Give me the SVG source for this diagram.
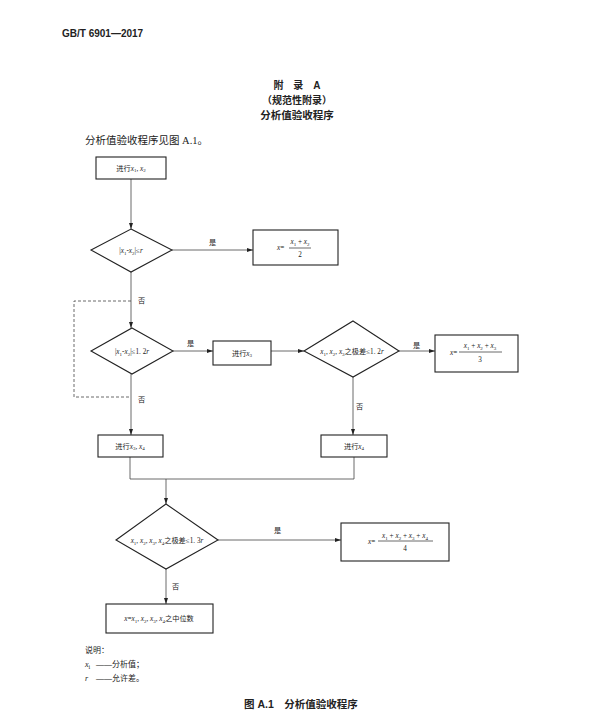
<svg xmlns="http://www.w3.org/2000/svg" width="594" height="718" viewBox="0 0 594 718">
<style>
.t{font-family:"Liberation Serif","Noto Sans CJK SC",serif;fill:#222}
.s{font-size:7.2px}
.i{font-style:italic}
.sub{font-size:5px}
.h{font-family:"Liberation Sans","Noto Sans CJK SC",sans-serif;font-weight:bold;fill:#222}
.box{fill:#fff;stroke:#222;stroke-width:1.1}
.ln{fill:none;stroke:#444;stroke-width:0.8}
.dash{stroke-dasharray:3 2}
</style>
<defs>
<marker id="ar" markerWidth="6" markerHeight="4" refX="6" refY="2" orient="auto" markerUnits="userSpaceOnUse">
<path d="M0,0 L6,2 L0,4 Z" fill="#222"/>
</marker>
</defs>
<rect width="594" height="718" fill="#fff"/>
<text class="h" x="62" y="37" font-size="10">GB/T 6901—2017</text>
<text class="h" x="297" y="89" font-size="10" text-anchor="middle">附　录　A</text>
<text class="h" x="297" y="104" font-size="10" text-anchor="middle" font-weight="normal">（规范性附录）</text>
<text class="h" x="297" y="119" font-size="10.5" text-anchor="middle">分析值验收程序</text>
<text class="t" x="85" y="144" font-size="10.5">分析值验收程序见图 A.1。</text>

<g id="connectors">
<path class="ln" d="M131,179 V229" marker-end="url(#ar)"/>
<path class="ln" d="M172,250 H253" marker-end="url(#ar)"/>
<path class="ln" d="M131,272 V328" marker-end="url(#ar)"/>
<path class="ln dash" d="M131,301 H74 V397 H131"/>
<path class="ln" d="M173,351 H213" marker-end="url(#ar)"/>
<path class="ln" d="M271,351 H304" marker-end="url(#ar)"/>
<path class="ln" d="M399,351 H435" marker-end="url(#ar)"/>
<path class="ln" d="M131,374 V435" marker-end="url(#ar)"/>
<path class="ln" d="M353,377 V435" marker-end="url(#ar)"/>
<path class="ln" d="M130,457 V479 H354 V457"/>
<path class="ln" d="M166,479 V504" marker-end="url(#ar)"/>
<path class="ln" d="M218,540 H341" marker-end="url(#ar)"/>
<path class="ln" d="M166,569 V604" marker-end="url(#ar)"/>
<text class="t s" x="209" y="245">是</text>
<text class="t s" x="138" y="303">否</text>
<text class="t s" x="187" y="346">是</text>
<text class="t s" x="413" y="348">是</text>
<text class="t s" x="138" y="402">否</text>
<text class="t s" x="356" y="409">否</text>
<text class="t s" x="274" y="533">是</text>
<text class="t s" x="172" y="589">否</text>
</g>

<g id="n1">
<rect class="box" x="96" y="157" width="70" height="22"/>
<text class="t s" x="131" y="170.5" text-anchor="middle">进行<tspan class="i">x</tspan><tspan class="sub" dy="1.5">1</tspan><tspan dy="-1.5">, </tspan><tspan class="i">x</tspan><tspan class="sub" dy="1.5">2</tspan></text>
</g>

<g id="d1">
<path class="box" d="M131,229 L172,250 L131,272 L91,250 Z"/>
<text class="t s" x="131" y="253" text-anchor="middle">|<tspan class="i">x</tspan><tspan class="sub" dy="1.5">1</tspan><tspan dy="-1.5">-</tspan><tspan class="i">x</tspan><tspan class="sub" dy="1.5">2</tspan><tspan dy="-1.5">|≤</tspan><tspan class="i">r</tspan></text>
</g>

<g id="r1">
<rect class="box" x="253" y="230" width="85" height="35"/>
<text class="t s" x="277" y="250"><tspan class="i">x</tspan>=</text>
<line class="ln" x1="289" y1="248" x2="311" y2="248"/>
<text class="t s" x="300" y="244" text-anchor="middle"><tspan class="i">x</tspan><tspan class="sub" dy="1.5">1</tspan><tspan dy="-1.5"> + </tspan><tspan class="i">x</tspan><tspan class="sub" dy="1.5">2</tspan></text>
<text class="t s" x="300" y="257" text-anchor="middle">2</text>
</g>

<g id="d2">
<path class="box" d="M132,328 L173,351 L132,374 L91,351 Z"/>
<text class="t s" x="132" y="354" text-anchor="middle">|<tspan class="i">x</tspan><tspan class="sub" dy="1.5">1</tspan><tspan dy="-1.5">-</tspan><tspan class="i">x</tspan><tspan class="sub" dy="1.5">2</tspan><tspan dy="-1.5">|≤1. 2</tspan><tspan class="i">r</tspan></text>
</g>

<g id="n3">
<rect class="box" x="213" y="341" width="58" height="24"/>
<text class="t s" x="242" y="355.5" text-anchor="middle">进行<tspan class="i">x</tspan><tspan class="sub" dy="1.5">3</tspan></text>
</g>

<g id="d3">
<path class="box" d="M353,321 L399,351 L353,377 L304,351 Z"/>
<text class="t s" x="352" y="354" text-anchor="middle"><tspan class="i">x</tspan><tspan class="sub" dy="1.5">1</tspan><tspan dy="-1.5">, </tspan><tspan class="i">x</tspan><tspan class="sub" dy="1.5">2</tspan><tspan dy="-1.5">, </tspan><tspan class="i">x</tspan><tspan class="sub" dy="1.5">3</tspan><tspan dy="-1.5">之极差≤1. 2</tspan><tspan class="i">r</tspan></text>
</g>

<g id="r2">
<rect class="box" x="435" y="335" width="83" height="37"/>
<text class="t s" x="450" y="355"><tspan class="i">x</tspan>=</text>
<line class="ln" x1="459" y1="352" x2="502" y2="352"/>
<text class="t s" x="480" y="348" text-anchor="middle"><tspan class="i">x</tspan><tspan class="sub" dy="1.5">1</tspan><tspan dy="-1.5"> + </tspan><tspan class="i">x</tspan><tspan class="sub" dy="1.5">2</tspan><tspan dy="-1.5"> + </tspan><tspan class="i">x</tspan><tspan class="sub" dy="1.5">3</tspan></text>
<text class="t s" x="480" y="362" text-anchor="middle">3</text>
</g>

<g id="n4">
<rect class="box" x="98" y="435" width="65" height="22"/>
<text class="t s" x="130" y="448.5" text-anchor="middle">进行<tspan class="i">x</tspan><tspan class="sub" dy="1.5">3</tspan><tspan dy="-1.5">, </tspan><tspan class="i">x</tspan><tspan class="sub" dy="1.5">4</tspan></text>
</g>

<g id="n5">
<rect class="box" x="321" y="435" width="66" height="22"/>
<text class="t s" x="354" y="448.5" text-anchor="middle">进行<tspan class="i">x</tspan><tspan class="sub" dy="1.5">4</tspan></text>
</g>

<g id="d4">
<path class="box" d="M166,504 L218,540 L166,569 L116,540 Z"/>
<text class="t s" x="167" y="543" text-anchor="middle"><tspan class="i">x</tspan><tspan class="sub" dy="1.5">1</tspan><tspan dy="-1.5">, </tspan><tspan class="i">x</tspan><tspan class="sub" dy="1.5">2</tspan><tspan dy="-1.5">, </tspan><tspan class="i">x</tspan><tspan class="sub" dy="1.5">3</tspan><tspan dy="-1.5">, </tspan><tspan class="i">x</tspan><tspan class="sub" dy="1.5">4</tspan><tspan dy="-1.5">之极差≤1. 3</tspan><tspan class="i">r</tspan></text>
</g>

<g id="r3">
<rect class="box" x="341" y="523" width="108" height="38"/>
<text class="t s" x="368" y="544"><tspan class="i">x</tspan>=</text>
<line class="ln" x1="378" y1="541" x2="433" y2="541"/>
<text class="t s" x="405" y="538" text-anchor="middle"><tspan class="i">x</tspan><tspan class="sub" dy="1.5">1</tspan><tspan dy="-1.5"> + </tspan><tspan class="i">x</tspan><tspan class="sub" dy="1.5">2</tspan><tspan dy="-1.5"> + </tspan><tspan class="i">x</tspan><tspan class="sub" dy="1.5">3</tspan><tspan dy="-1.5"> + </tspan><tspan class="i">x</tspan><tspan class="sub" dy="1.5">4</tspan></text>
<text class="t s" x="405" y="551" text-anchor="middle">4</text>
</g>

<g id="r4">
<rect class="box" x="106" y="604" width="107" height="29"/>
<text class="t s" x="159" y="621" text-anchor="middle"><tspan class="i">x</tspan>=<tspan class="i">x</tspan><tspan class="sub" dy="1.5">1</tspan><tspan dy="-1.5">, </tspan><tspan class="i">x</tspan><tspan class="sub" dy="1.5">2</tspan><tspan dy="-1.5">, </tspan><tspan class="i">x</tspan><tspan class="sub" dy="1.5">3</tspan><tspan dy="-1.5">, </tspan><tspan class="i">x</tspan><tspan class="sub" dy="1.5">4</tspan><tspan dy="-1.5">之中位数</tspan></text>
</g>

<text class="t" x="85" y="653" font-size="8">说明：</text>
<text class="t" x="85" y="667" font-size="8"><tspan class="i">x</tspan><tspan font-size="6" dy="1.5">i</tspan><tspan dy="-1.5" x="96">——分析值；</tspan></text>
<text class="t" x="85" y="681" font-size="8"><tspan class="i">r</tspan><tspan x="96">——允许差。</tspan></text>
<text class="h" x="301" y="708" font-size="10.5" text-anchor="middle">图 A.1　分析值验收程序</text>
</svg>
